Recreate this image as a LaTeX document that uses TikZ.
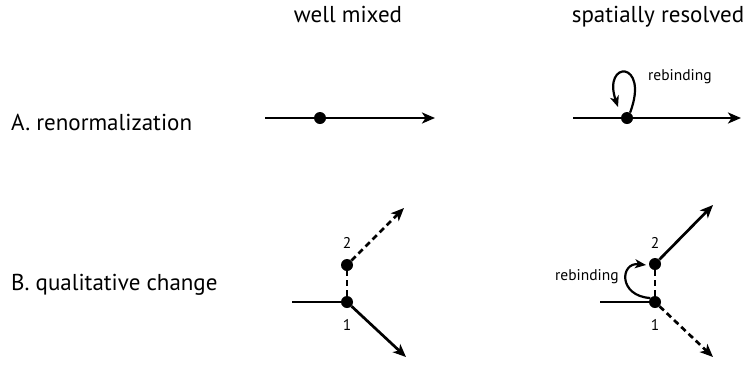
\documentclass[tikz,border=0pt]{standalone}
\usepackage{fontspec}
\setmainfont{PT Sans}
\usetikzlibrary{arrows.meta}
\tikzset{
    dot/.style = {circle, fill=black, inner sep=0pt, minimum size=12pt},
    title/.style = {anchor=base, inner sep=0pt, font=\fontsize{23}{27}\selectfont},
    rowlabel/.style = {anchor=base west, inner sep=0pt, font=\fontsize{23}{27}\selectfont},
    small/.style = {inner sep=0pt, font=\fontsize{15.5}{18}\selectfont},
    edgen/.style = {-{Stealth[length=13pt,width=11pt,inset=3.5pt]}, line width=2.7pt},
    edged/.style = {edgen, dash pattern=on 6pt off 4pt},
    edgel/.style = {-{Stealth[length=11pt,width=9pt,inset=3pt]}, line width=2.2pt}, % rebinding
    linen/.style = {line width=2.7pt},
    lined/.style = {line width=2.7pt, dash pattern=on 6pt off 4pt},
}

\begin{document}
\begin{tikzpicture}[x=1pt,y=-1pt]
\useasboundingbox (0,0) rectangle (745,365);
% column and row titles
\node[title] at (348,22) (wm) {well mixed};
\node[title] at (658,22) (sr) {spatially resolved};
\node[rowlabel] at (11,130) (ra) {A. renormalization};
\node[rowlabel] at (11,290) (rb) {B. qualitative change};
%
% A, well mixed
\coordinate (a0) at (265,118);
\node[dot] at (320,118) (a1) {};
\coordinate (a2) at (435,118);
\draw[linen] (a0) -- (a1);
\draw[edgen] (a1) -- (a2);
%
% A, spatially resolved
\coordinate (b0) at (573,118);
\node[dot] at (627,118) (b1) {};
\coordinate (b2) at (741,118);
\coordinate (bl) at (618,107);
\draw[linen] (b0) -- (b1);
\draw[edgen] (b1) -- (b2);
\draw[edgel] (b1.60) .. controls (650,60) and (602,60) .. (bl);
\node[small, anchor=base west] at (648,80) (bt) {rebinding};
%
% B, well mixed
\coordinate (c0) at (292,302);
\node[dot] at (347,302) (c1) {};
\node[dot] at (347,265) (c2) {};
\node[small] at (347,325) (c1l) {1};
\node[small] at (347,243) (c2l) {2};
\coordinate (c3) at (406,357);
\coordinate (c4) at (404,208);
\draw[linen] (c0) -- (c1);
\draw[lined] (c1) -- (c2);
\draw[edgen] (c1) -- (c3);
\draw[edged] (c2) -- (c4);
%
% B, spatially resolved
\coordinate (d0) at (600,302);
\node[dot] at (655,302) (d1) {};
\node[dot] at (655,264) (d2) {};
\node[small] at (655,325) (d1l) {1};
\node[small] at (655,243) (d2l) {2};
\coordinate (d3) at (713,205);
\coordinate (d4) at (713,357);
\coordinate (dl) at (646,265);
\draw[linen] (d0) -- (d1);
\draw[lined] (d1) -- (d2);
\draw[edgen] (d2) -- (d3);
\draw[edged] (d1) -- (d4);
\draw[edgel] (d1.140) .. controls (618,296) and (620,262) .. (dl);
\node[small, anchor=base west] at (555,280) (dt) {rebinding};

\end{tikzpicture}
\end{document}
